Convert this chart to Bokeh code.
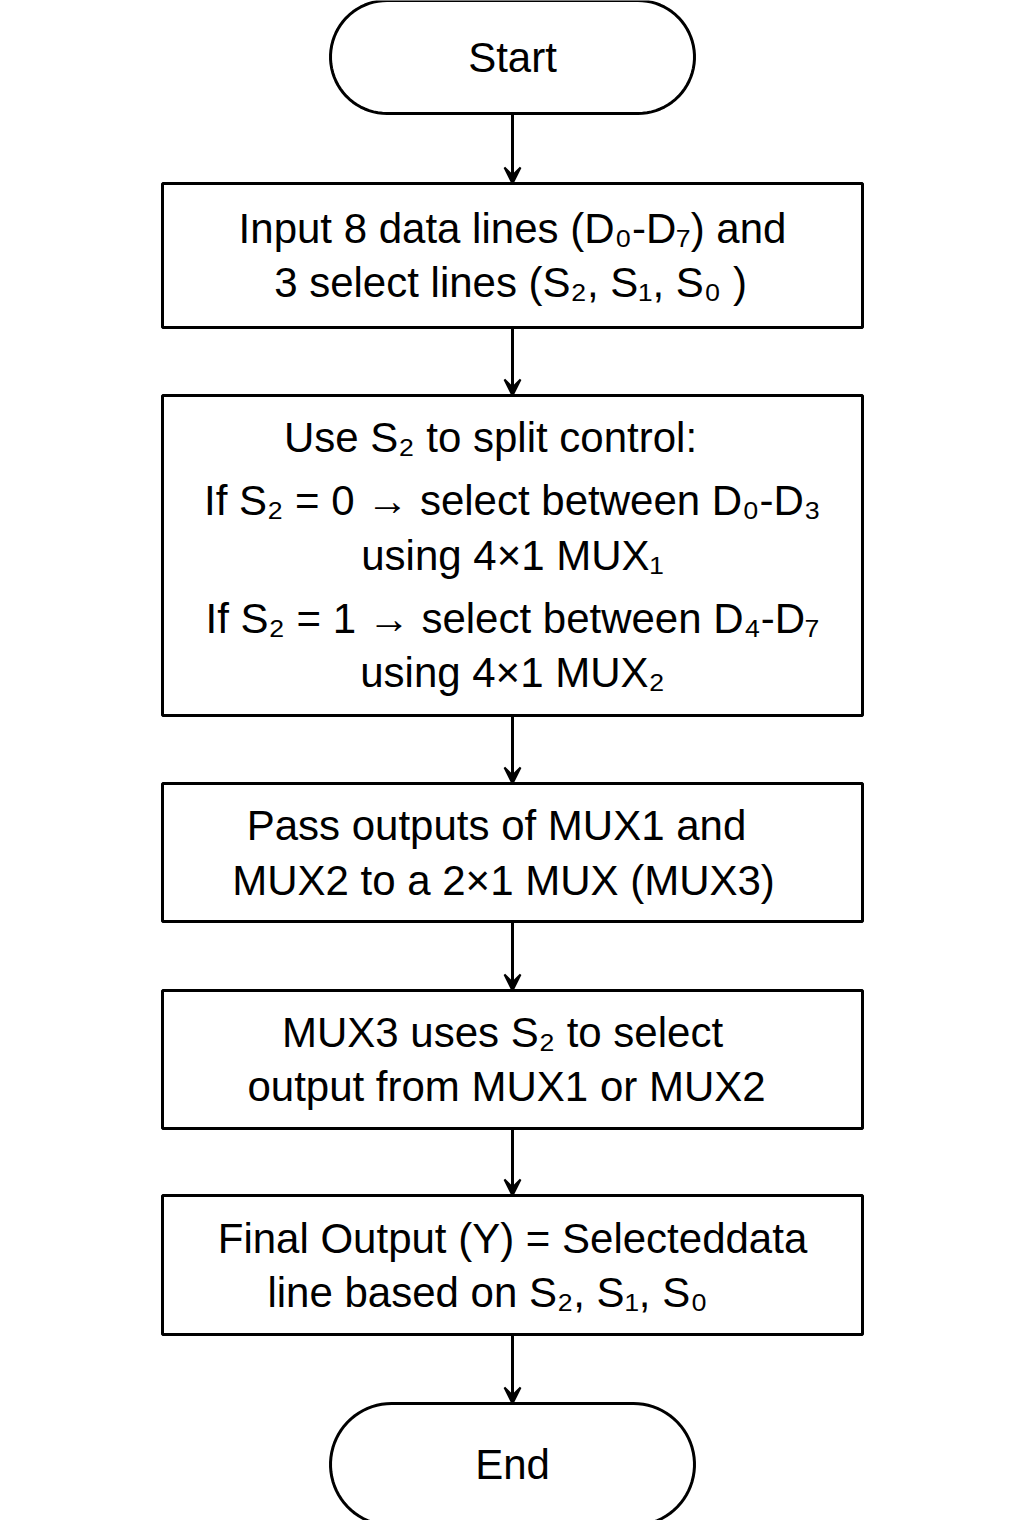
import numpy as np
from bokeh.plotting import figure
from bokeh.models import Range1d, Arrow, VeeHead
from bokeh.embed import file_html
from bokeh.resources import INLINE
from bokeh.core.properties import value

# boxes: left, right, top, bottom (page pixels)
box_left = [162, 162, 162, 162, 162]
box_right = [862, 862, 862, 862, 862]
box_top = [183, 395, 783, 990, 1195]
box_bottom = [327, 715, 921, 1128, 1334]

term_labels = ["Start", "End"]
term_top = [0, 1403]
term_bottom = [113, 1525]
term_left = 330
term_right = 694

text_lines = [
    "Input 8 data lines (D\u2080-D\u2087) and",
    "3 select lines (S\u2082, S\u2081, S\u2080 )",
    "Use S\u2082 to split control:",
    "If S\u2082 = 0 \u2192 select between D\u2080-D\u2083",
    "using 4\u00d71 MUX\u2081",
    "If S\u2082 = 1 \u2192 select between D\u2084-D\u2087",
    "using 4\u00d71 MUX\u2082",
    "Pass outputs of MUX1 and",
    "MUX2 to a 2\u00d71 MUX (MUX3)",
    "MUX3 uses S\u2082 to select",
    "output from MUX1 or MUX2",
    "Final Output (Y) = Selecteddata",
    "line based on S\u2082, S\u2081, S\u2080",
]
text_x = [512, 510, 490, 512, 512, 512, 512, 496, 503, 502, 506, 512, 487]
text_y = [228, 282, 437, 500, 555, 618, 672, 825, 880, 1032, 1086, 1238, 1292]

p = figure(width=1008, height=1520, x_range=Range1d(0, 1008), y_range=Range1d(1520, 0),
           output_backend="svg", toolbar_location=None, min_border=0)
p.axis.visible = False
p.grid.visible = False
p.outline_line_color = None

p.quad(left=box_left, right=box_right, top=box_top, bottom=box_bottom,
       fill_color="white", line_color="black", line_width=3)

# stadium shapes
xs, ys = [], []
for t, b in zip(term_top, term_bottom):
    r = (b - t) / 2
    cy = (t + b) / 2
    a1 = np.linspace(np.pi / 2, 3 * np.pi / 2, 40)
    a2 = np.linspace(-np.pi / 2, np.pi / 2, 40)
    px = np.concatenate([term_left + r + r * np.cos(a1), term_right - r + r * np.cos(a2)])
    py = np.concatenate([cy - r * np.sin(a1), cy - r * np.sin(a2)])
    xs.append(px); ys.append(py)
p.patches(xs, ys, fill_color="white", line_color="black", line_width=3)

# arrows between consecutive shapes
tops = box_top + [term_top[1]]
bottoms = [term_bottom[0]] + box_bottom
for b, t in zip(bottoms, tops):
    p.add_layout(Arrow(x_start=512, y_start=b, x_end=512, y_end=t, line_width=3,
                       end=VeeHead(size=16, line_color="black", fill_color="black", line_width=2)))

p.text(x=[512, 512], y=[(term_top[0] + term_bottom[0]) / 2, (term_top[1] + term_bottom[1]) / 2],
       text=term_labels, text_align="center", text_baseline="middle",
       text_font=value("Liberation Sans"), text_font_size="42px", text_color="black")
p.text(x=text_x, y=text_y, text=text_lines, text_align="center", text_baseline="middle",
       text_font=value("Liberation Sans"), text_font_size="42px", text_color="black")

open("out.html", "w").write(file_html(p, INLINE))
